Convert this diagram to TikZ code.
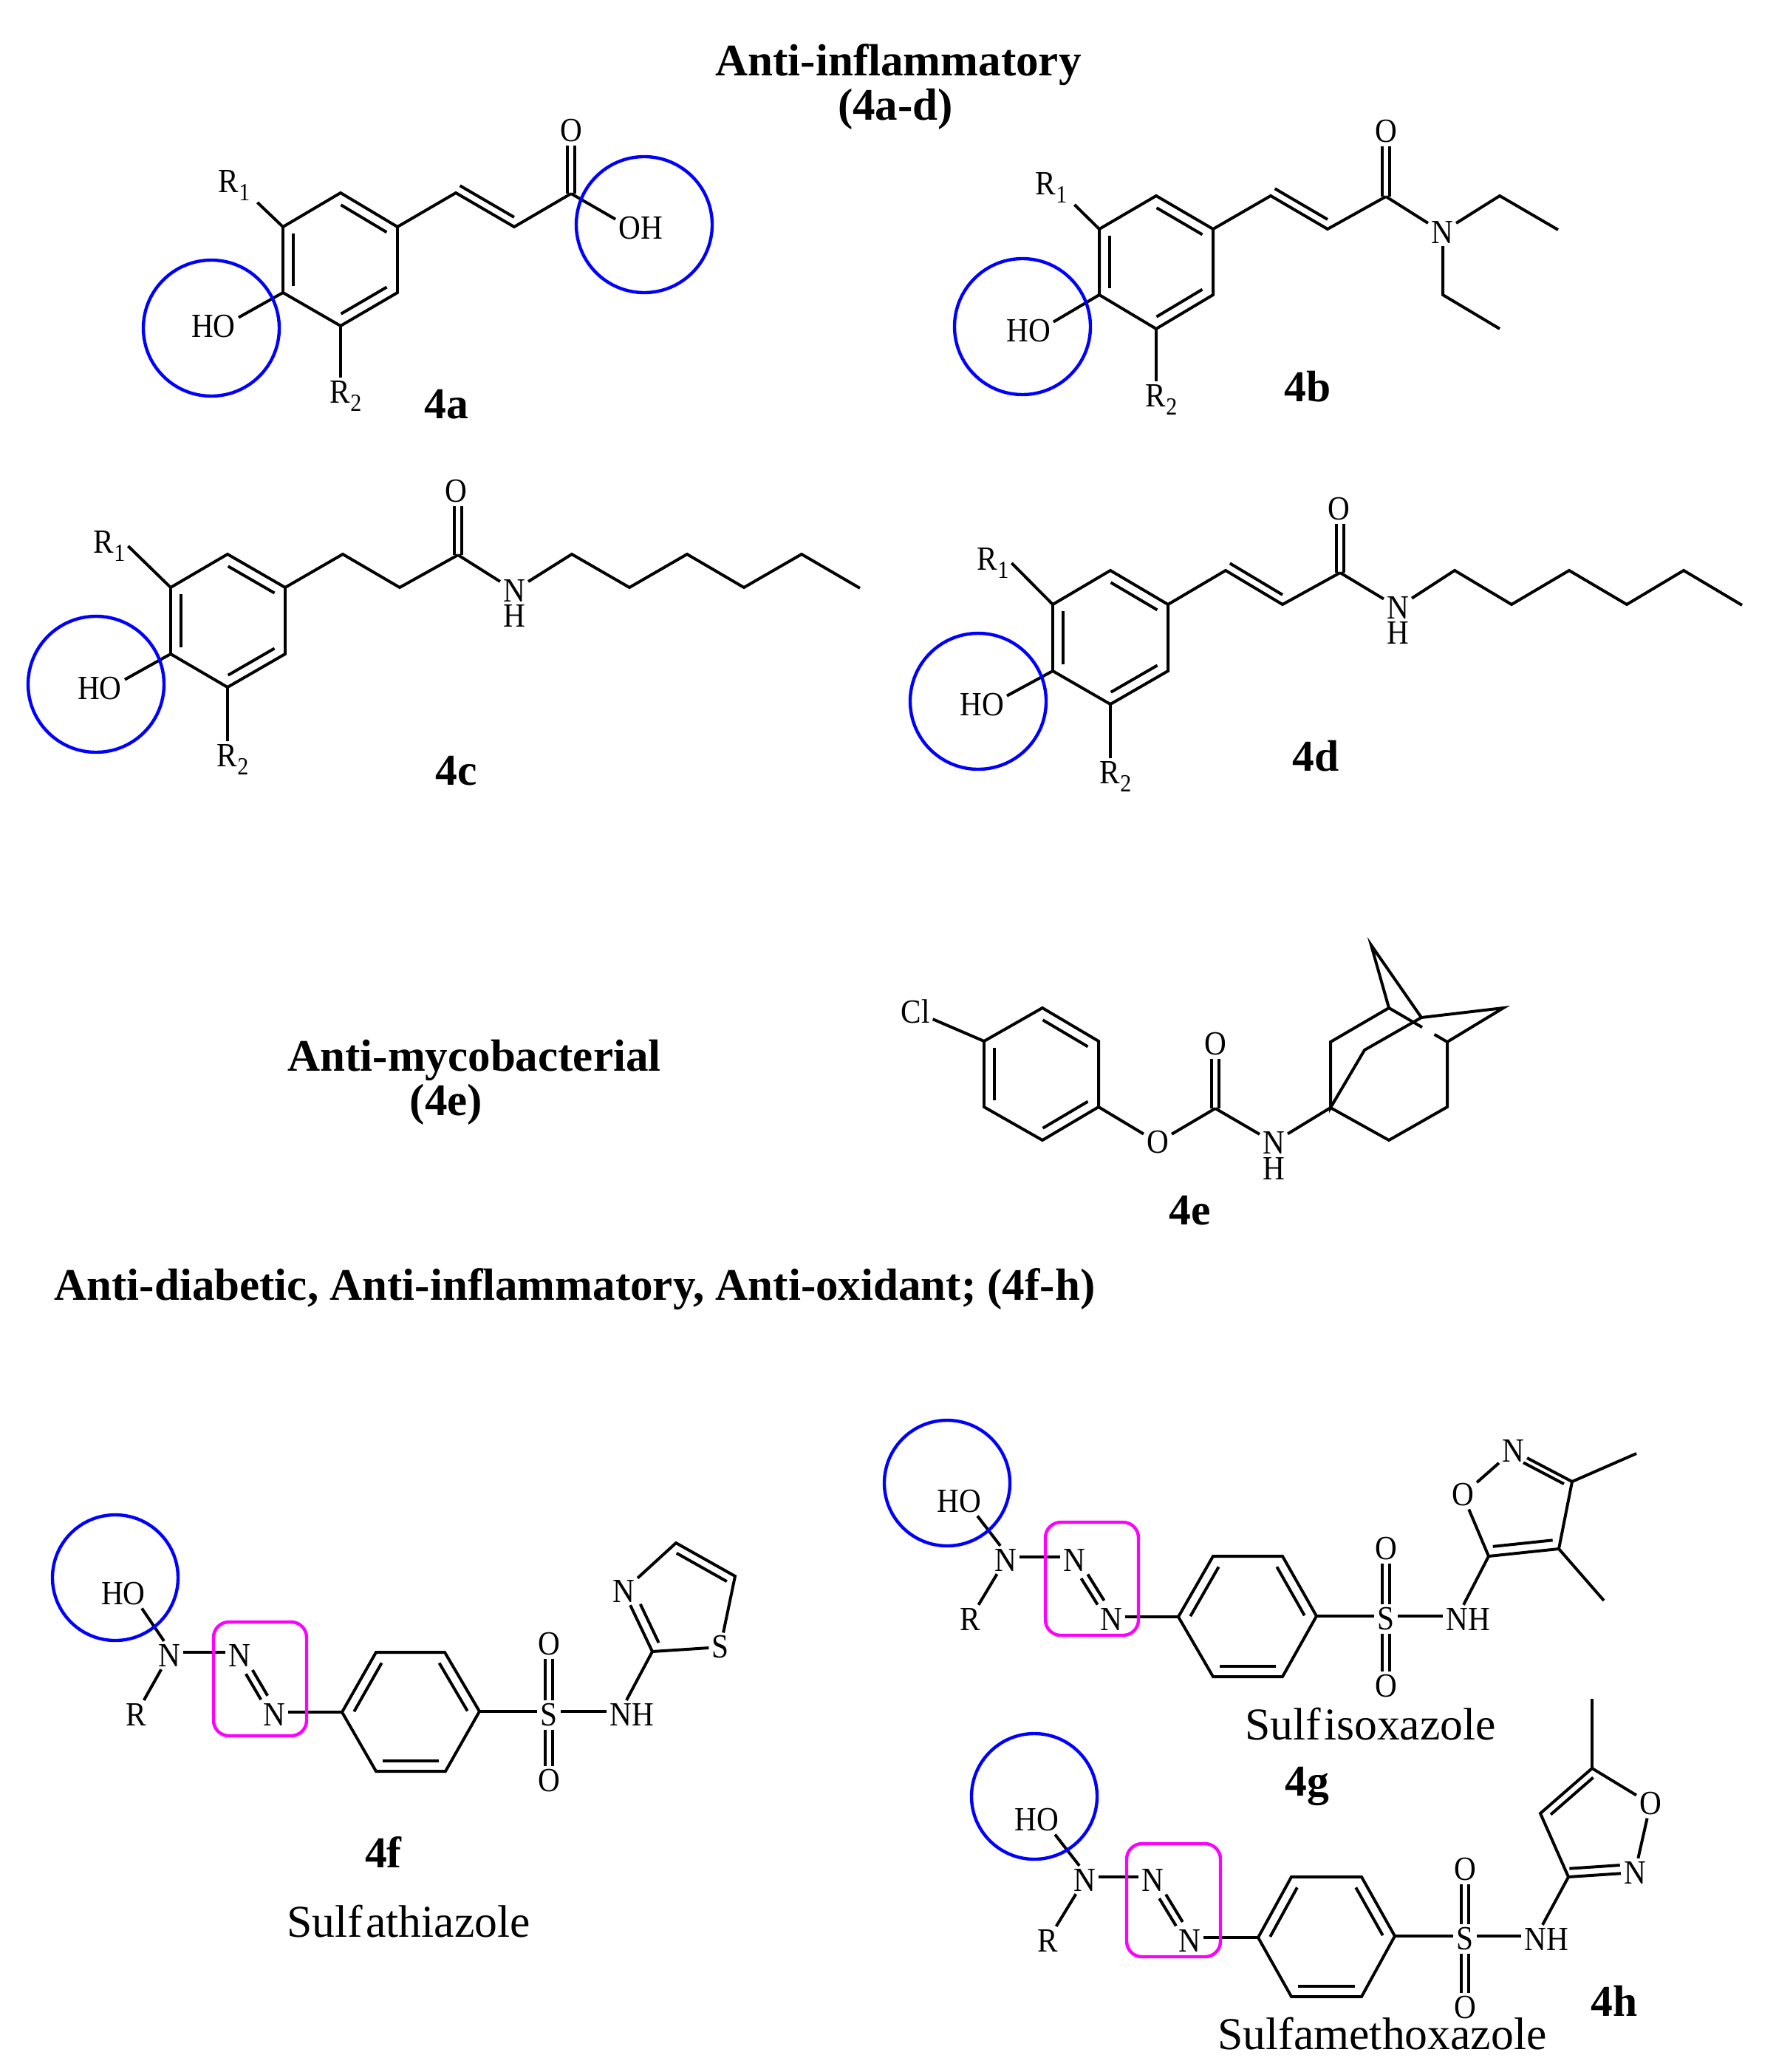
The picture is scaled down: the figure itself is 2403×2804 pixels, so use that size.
\documentclass[tikz,border=0pt]{standalone}
\usepackage{fontspec}
\setmainfont[RawFeature=-liga]{Liberation Serif}
\newfontfamily\atomfont[FakeStretch=0.9]{Liberation Serif}
\usetikzlibrary{calc}

\definecolor{hoblue}{RGB}{0,0,255}
\definecolor{azopink}{RGB}{255,0,255}

\newcommand{\Rsub}[1]{R\raisebox{-2.8pt}{\fontsize{8}{8}\selectfont #1}}
\newcommand{\dblbond}[3][0pt]{\draw[bond,shorten <=#1,shorten >=#1] ($(#2)!1.25pt!90:(#3)$) -- ($(#3)!1.25pt!-90:(#2)$);
  \draw[bond,shorten <=#1,shorten >=#1] ($(#2)!1.25pt!-90:(#3)$) -- ($(#3)!1.25pt!90:(#2)$);}
\newcommand{\sidebond}[5]{\draw[bond,shorten <=#1,shorten >=#2] ($(#3)!#5!90:(#4)$) -- ($(#4)!#5!-90:(#3)$);}
\newcommand{\benzring}[6]{\draw[bond] (#1) -- (#2) -- (#3) -- (#4) -- (#5) -- (#6) -- cycle;
  \sidebond{2.1pt}{2.1pt}{#1}{#2}{-3.3pt}
  \sidebond{2.1pt}{2.1pt}{#3}{#4}{-3.3pt}
  \sidebond{2.1pt}{2.1pt}{#5}{#6}{-3.3pt}}

\tikzset{
  bond/.style={line width=0.95pt,black},
  atom/.style={font=\atomfont\fontsize{11}{12}\selectfont,inner sep=0.8pt},
  heading/.style={font=\bfseries\fontsize{14.65}{16}\selectfont,inner sep=0pt},
  molname/.style={font=\bfseries\fontsize{14.3}{16}\selectfont,inner sep=0pt},
  drugname/.style={font=\fontsize{14.8}{16}\selectfont,inner sep=0pt},
  hogroup/.style={line width=1.05pt,draw=hoblue},
  azobox/.style={line width=1.05pt,draw=azopink,rounded corners=5pt},
}

\begin{document}
\begin{tikzpicture}[x=0.24pt,y=-0.24pt]
\useasboundingbox (0,0) rectangle (2403,2804);

%Titles
\node[heading] (titleA) at (1216,88) {Anti-inflammatory};
\node[heading] (titleAb) at (1212,148) {(4a-d)};
\node[heading] (titleB) at (642,1435) {Anti-mycobacterial};
\node[heading] (titleBb) at (604,1495) {(4e)};
\node[heading] (titleC) at (778,1745) {Anti-diabetic, Anti-inflammatory, Anti-oxidant; (4f-h)};

%4a
\coordinate (a1) at (461,261);
\coordinate (a2) at (538,307);
\coordinate (a3) at (538,396);
\coordinate (a4) at (461,441);
\coordinate (a5) at (383,396);
\coordinate (a6) at (383,307);
\coordinate (a7) at (617,261);
\coordinate (a8) at (696,307);
\coordinate (a9) at (773,262);
\benzring{a1}{a2}{a3}{a4}{a5}{a6}
\node[atom] (aO) at (773,177) {O};
\node[atom] (aOH) at (867,309) {OH};
\node[atom] (aHO) at (289,442) {HO};
\node[atom] (aR1) at (317,251) {\Rsub{1}};
\node[atom] (aR2) at (468,536) {\Rsub{2}};
\node[molname] (aname) at (604,547) {4a};
\draw[bond] (a2) -- (a7) -- (a8) -- (a9);
\sidebond{0pt}{1.6pt}{a7}{a8}{2.7pt}
\dblbond{a9}{aO.south -| a9}
\draw[bond] (a9) -- (aOH.160);
\draw[bond] (a5) -- (aHO.20);
\draw[bond] (a6) -- ($(aR1.south east)+(6,-2)$);
\draw[bond] (a4) -- (aR2.north -| a4);
\draw[hogroup] (286,444) circle (92);
\draw[hogroup] (872,304) circle (92);

%4b
\coordinate (b1) at (1565,265);
\coordinate (b2) at (1642,310);
\coordinate (b3) at (1642,399);
\coordinate (b4) at (1565,445);
\coordinate (b5) at (1488,399);
\coordinate (b6) at (1488,310);
\coordinate (b7) at (1720,265);
\coordinate (b8) at (1797,310);
\coordinate (b9) at (1876,266);
\coordinate (b10) at (2030,265);
\coordinate (b11) at (2109,311);
\coordinate (b12) at (1953,399);
\coordinate (b13) at (2030,445);
\benzring{b1}{b2}{b3}{b4}{b5}{b6}
\node[atom] (bO) at (1876,178) {O};
\node[atom] (bN) at (1952,314) {N};
\node[atom] (bHO) at (1392,448) {HO};
\node[atom] (bR1) at (1423,254) {\Rsub{1}};
\node[atom] (bR2) at (1572,541) {\Rsub{2}};
\node[molname] (bname) at (1770,523) {4b};
\draw[bond] (b2) -- (b7) -- (b8) -- (b9);
\sidebond{0pt}{1.6pt}{b7}{b8}{2.7pt}
\dblbond{b9}{bO.south -| b9}
\draw[bond] (b9) -- (bN);
\draw[bond] (bN) -- (b10) -- (b11);
\draw[bond] (bN.south -| b12) -- (b12) -- (b13);
\draw[bond] (b5) -- (bHO.20);
\draw[bond] (b6) -- ($(bR1.south east)+(6,-2)$);
\draw[bond] (b4) -- (bR2.north -| b4);
\draw[hogroup] (1384,442) circle (92);

%4c
\coordinate (c1) at (308,750);
\coordinate (c2) at (386,795);
\coordinate (c3) at (386,885);
\coordinate (c4) at (308,930);
\coordinate (c5) at (231,885);
\coordinate (c6) at (231,795);
\coordinate (c7) at (464,750);
\coordinate (c8) at (541,795);
\coordinate (c9) at (620,751);
\coordinate (c10) at (774,750);
\coordinate (c11) at (852,795);
\coordinate (c12) at (930,750);
\coordinate (c13) at (1007,795);
\coordinate (c14) at (1085,750);
\coordinate (c15) at (1164,796);
\benzring{c1}{c2}{c3}{c4}{c5}{c6}
\node[atom] (cO) at (617,665) {O};
\node[atom] (cN) at (696,799) {N};
\node[atom] (cH) at (696,833) {H};
\node[atom] (cHO) at (135,932) {HO};
\node[atom] (cR1) at (148,739) {\Rsub{1}};
\node[atom] (cR2) at (315,1028) {\Rsub{2}};
\node[molname] (cname) at (618,1043) {4c};
\draw[bond] (c2) -- (c7) -- (c8) -- (c9);
\dblbond{c9}{cO.south -| c9}
\draw[bond] (c9) -- (cN);
\draw[bond] (cN) -- (c10) -- (c11) -- (c12) -- (c13) -- (c14) -- (c15);
\draw[bond] (c5) -- (cHO.20);
\draw[bond] (c6) -- (cR1.east);
\draw[bond] (c4) -- (cR2.north -| c4);
\draw[hogroup] (130,926) circle (92);

%4d
\coordinate (d1) at (1503,772);
\coordinate (d2) at (1581,818);
\coordinate (d3) at (1581,908);
\coordinate (d4) at (1503,953);
\coordinate (d5) at (1425,908);
\coordinate (d6) at (1425,818);
\coordinate (d7) at (1659,772);
\coordinate (d8) at (1736,818);
\coordinate (d9) at (1814,775);
\coordinate (d10) at (1969,772);
\coordinate (d11) at (2046,818);
\coordinate (d12) at (2124,772);
\coordinate (d13) at (2202,818);
\coordinate (d14) at (2279,772);
\coordinate (d15) at (2358,819);
\benzring{d1}{d2}{d3}{d4}{d5}{d6}
\node[atom] (dO) at (1812,689) {O};
\node[atom] (dN) at (1892,822) {N};
\node[atom] (dH) at (1892,856) {H};
\node[atom] (dHO) at (1329,954) {HO};
\node[atom] (dR1) at (1344,762) {\Rsub{1}};
\node[atom] (dR2) at (1510,1051) {\Rsub{2}};
\node[molname] (dname) at (1781,1023) {4d};
\draw[bond] (d2) -- (d7) -- (d8) -- (d9);
\sidebond{0pt}{1.6pt}{d7}{d8}{2.7pt}
\dblbond{d9}{dO.south -| d9}
\draw[bond] (d9) -- (dN);
\draw[bond] (dN) -- (d10) -- (d11) -- (d12) -- (d13) -- (d14) -- (d15);
\draw[bond] (d5) -- (dHO.20);
\draw[bond] (d6) -- (dR1.east);
\draw[bond] (d4) -- (dR2.north -| d4);
\draw[hogroup] (1324,949) circle (92);

%4e
\coordinate (e1) at (1411,1364);
\coordinate (e2) at (1487,1409);
\coordinate (e3) at (1487,1498);
\coordinate (e4) at (1411,1543);
\coordinate (e5) at (1332,1498);
\coordinate (e6) at (1332,1409);
\coordinate (eC) at (1645,1500);
\coordinate (k1) at (1801,1499);
\coordinate (k2) at (1880,1543);
\coordinate (k3) at (1959,1498);
\coordinate (k4) at (1959,1410);
\coordinate (k5) at (2035,1364);
\coordinate (k6) at (1924,1377);
\coordinate (k7) at (1847,1421);
\coordinate (k8) at (1801,1410);
\coordinate (k9) at (1880,1364);
\coordinate (k10) at (1856,1279);
\benzring{e1}{e2}{e3}{e4}{e5}{e6}
\node[atom] (eCl) at (1239,1369) {Cl};
\node[atom] (eOa) at (1567,1546) {O};
\node[atom] (eOb) at (1645,1413) {O};
\node[atom] (eN) at (1724,1546) {N};
\node[atom] (eH) at (1724,1581) {H};
\node[molname] (ename) at (1611,1638) {4e};
\draw[bond] (eCl) -- (e6);
\draw[bond] (e3) -- (eOa);
\draw[bond] (eOa) -- (eC);
\dblbond{eC}{eOb.south}
\draw[bond] (eC) -- (eN);
\draw[bond] (eN) -- (k1);
\draw[bond] (k1) -- (k2) -- (k3) -- (k4) -- (k5) -- (k6) -- (k7) -- (k1) -- (k8) -- (k9) -- (k10) -- (k6);
\draw[bond] (k9) -- ($(k9)!0.57!(k4)$);
\draw[bond] ($(k9)!0.78!(k4)$) -- (k4);

%4f
\coordinate (f1) at (463,2317);
\coordinate (f2) at (509,2236);
\coordinate (f3) at (602,2236);
\coordinate (f4) at (649,2316);
\coordinate (f5) at (603,2397);
\coordinate (f6) at (509,2397);
\coordinate (fC2) at (883,2235);
\coordinate (fC4) at (915,2088);
\coordinate (fC5) at (995,2133);
\benzring{f1}{f2}{f3}{f4}{f5}{f6}
\node[atom] (fHO) at (167,2157) {HO};
\node[atom] (fNa) at (229,2240) {N};
\node[atom] (fR) at (184,2320) {R};
\node[atom] (fNb) at (324,2240) {N};
\node[atom] (fNc) at (371,2320) {N};
\node[atom] (fS) at (743,2321) {S};
\node[atom] (fOa) at (743,2225) {O};
\node[atom] (fOb) at (743,2410) {O};
\node[atom] (fNH) at (855,2320) {NH};
\node[atom] (fN) at (844,2153) {N};
\node[atom] (fSb) at (975,2229) {S};
\node[molname] (fname) at (519,2506) {4f};
\node[drugname] (fdrug) at (553,2600) {Sulf\kern1pt athiazole};
\draw[bond] (fHO.-38) -- (fNa.110);
\draw[bond] (fNa) -- (fR);
\draw[bond] ($(fNa.east)+(0,-4)$) -- ($(fNb.west)+(0,-4)$);
\dblbond[6.3pt]{fNb}{fNc}
\draw[bond] (fNc.east |- f1) -- (f1);
\draw[bond] (f4) -- (fS.west |- f4);
\draw[bond] (fS.east |- f4) -- (fNH.west |- f4);
\dblbond{fS.north}{fOa.south}
\dblbond{fS.south}{fOb.north}
\draw[bond] (fNH.north -| 848,0) -- (fC2);
\draw[bond] (fN) -- (fC2);
\sidebond{6.2pt}{1.7pt}{fN}{fC2}{3.1pt}
\draw[bond] (fC2) -- (fSb);
\draw[bond] (fSb) -- (fC5) -- (fC4) -- (fN);
\sidebond{1.8pt}{1.5pt}{fC4}{fC5}{-2.8pt}
\draw[hogroup] (156,2135) circle (85);
\draw[azobox] (289,2195) rectangle (415,2349);

%4g
\coordinate (g1) at (1595,2188);
\coordinate (g2) at (1642,2106);
\coordinate (g3) at (1736,2106);
\coordinate (g4) at (1782,2187);
\coordinate (g5) at (1736,2269);
\coordinate (g6) at (1642,2269);
\coordinate (gC5) at (2015,2106);
\coordinate (gC4) at (2110,2096);
\coordinate (gC3) at (2128,2005);
\coordinate (gMe1) at (2215,1967);
\coordinate (gMe2) at (2171,2166);
\benzring{g1}{g2}{g3}{g4}{g5}{g6}
\node[atom] (gHO) at (1298,2032) {HO};
\node[atom] (gNa) at (1361,2111) {N};
\node[atom] (gR) at (1313,2191) {R};
\node[atom] (gNb) at (1454,2111) {N};
\node[atom] (gNc) at (1504,2191) {N};
\node[atom] (gS) at (1876,2191) {S};
\node[atom] (gOa) at (1876,2096) {O};
\node[atom] (gOb) at (1876,2282) {O};
\node[atom] (gNH) at (1987,2191) {NH};
\node[atom] (gO) at (1980,2023) {O};
\node[atom] (gN) at (2048,1963) {N};
\node[molname] (gname) at (1769,2417) {4g};
\node[drugname] (gdrug) at (1855,2333) {Sulf\kern1pt isoxazole};
\draw[bond] (gHO.-38) -- (gNa.110);
\draw[bond] (gNa) -- (gR);
\draw[bond] ($(gNa.east)+(0,-4)$) -- ($(gNb.west)+(0,-4)$);
\dblbond[6.3pt]{gNb}{gNc}
\draw[bond] (gNc.east |- g1) -- (g1);
\draw[bond] (g4) -- (gS.west |- g4);
\draw[bond] (gS.east |- g4) -- (gNH.west |- g4);
\dblbond{gS.north}{gOa.south}
\dblbond{gS.south}{gOb.north}
\draw[bond] (gNH.north -| 1981,0) -- (gC5);
\draw[bond] (gC5) -- (gO);
\draw[bond] (gO) -- (gN);
\draw[bond] (gN) -- (gC3) -- (gC4) -- (gC5);
\sidebond{4.8pt}{2pt}{gN}{gC3}{-1.9pt}
\sidebond{1.7pt}{1.7pt}{gC5}{gC4}{3pt}
\draw[bond] (gC3) -- (gMe1);
\draw[bond] (gC4) -- (gMe2);
\draw[hogroup] (1282,2007) circle (85);
\draw[azobox] (1415,2060) rectangle (1541,2213);

%4h
\coordinate (h1) at (1703,2622);
\coordinate (h2) at (1748,2540);
\coordinate (h3) at (1843,2540);
\coordinate (h4) at (1888,2620);
\coordinate (h5) at (1843,2702);
\coordinate (h6) at (1748,2702);
\coordinate (hC3) at (2123,2540);
\coordinate (hC4) at (2085,2454);
\coordinate (hC5) at (2155,2393);
\coordinate (hMe) at (2155,2299);
\benzring{h1}{h2}{h3}{h4}{h5}{h6}
\node[atom] (hHO) at (1403,2463) {HO};
\node[atom] (hNa) at (1468,2544) {N};
\node[atom] (hR) at (1418,2626) {R};
\node[atom] (hNb) at (1560,2544) {N};
\node[atom] (hNc) at (1610,2626) {N};
\node[atom] (hS) at (1983,2624) {S};
\node[atom] (hOa) at (1983,2530) {O};
\node[atom] (hOb) at (1983,2717) {O};
\node[atom] (hNH) at (2093,2624) {NH};
\node[atom] (hN) at (2213,2534) {N};
\node[atom] (hO) at (2234,2441) {O};
\node[molname] (hname) at (2185,2708) {4h};
\node[drugname] (hdrug) at (1871,2752) {Sulfamethoxazole};
\draw[bond] (hHO.-38) -- (hNa.110);
\draw[bond] (hNa) -- (hR);
\draw[bond] ($(hNa.east)+(0,-4)$) -- ($(hNb.west)+(0,-4)$);
\dblbond[6.3pt]{hNb}{hNc}
\draw[bond] (hNc.east |- h1) -- (h1);
\draw[bond] (h4) -- (hS.west |- h4);
\draw[bond] (hS.east |- h4) -- (hNH.west |- h4);
\dblbond{hS.north}{hOa.south}
\dblbond{hS.south}{hOb.north}
\draw[bond] (hNH.north -| 2088,0) -- (hC3);
\draw[bond] (hC3) -- (hN);
\sidebond{0.5pt}{4.7pt}{hC3}{hN}{2.7pt}
\draw[bond] (hN) -- (hO);
\draw[bond] (hO) -- (hC5) -- (hC4) -- (hC3);
\sidebond{2.3pt}{1.7pt}{hC4}{hC5}{-2.5pt}
\draw[bond] (hC5) -- (hMe);
\draw[hogroup] (1400,2431) circle (85);
\draw[azobox] (1525,2495) rectangle (1652,2648);

\end{tikzpicture}
\end{document}
